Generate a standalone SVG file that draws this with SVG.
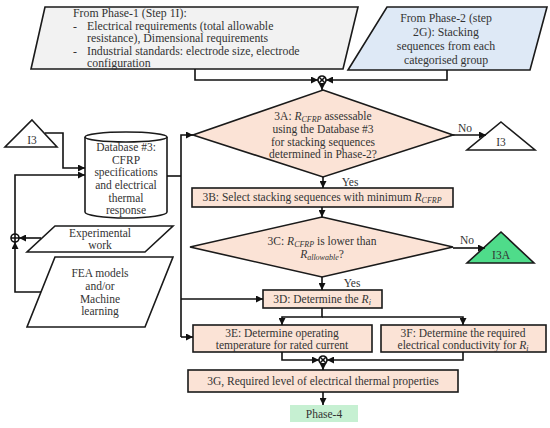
<svg xmlns="http://www.w3.org/2000/svg" width="550" height="428" viewBox="0 0 550 428">
<style>
text{font-family:"Liberation Serif","DejaVu Serif",serif;font-size:11.5px;fill:#333}
.t{font-size:11.8px}
.c{text-anchor:middle}
.sh{stroke:#1a1a1a;stroke-width:1.6}
.pe{fill:#fbe3d6}
.ln{fill:none;stroke:#111;stroke-width:1.6}
.i{font-style:italic}
.s{font-size:8px;font-style:italic}
</style>
<defs>
<marker id="a" viewBox="0 0 8 8" refX="8" refY="4" markerWidth="7" markerHeight="7" markerUnits="userSpaceOnUse" orient="auto"><path d="M0,0L8,4L0,8z" fill="#111"/></marker>
</defs>

<g id="phase1">
<polygon class="sh" points="45,7 358,7 343,69 31,69" fill="#f2f2f2"/>
<text class="t" x="73" y="17">From Phase-1 (Step 1I):</text>
<text class="t" x="73" y="29.5">-<tspan x="87">Electrical requirements (total allowable</tspan></text>
<text class="t" x="87" y="42">resistance), Dimensional requirements</text>
<text class="t" x="73" y="54.5">-<tspan x="87">Industrial standards: electrode size, electrode</tspan></text>
<text class="t" x="87" y="67">configuration</text>
</g>

<g id="phase2">
<polygon class="sh" points="387,7 547,7 530,70 348,70" fill="#dee9f6"/>
<text class="c t" x="446" y="22">From Phase-2 (step</text>
<text class="c t" x="446" y="36">2G): Stacking</text>
<text class="c t" x="446" y="50">sequences from each</text>
<text class="c t" x="446" y="64">categorised group</text>
</g>

<g id="i3-left">
<polygon class="sh" points="32,120 57,147 5,147" fill="#fff"/>
<text class="c" x="32" y="144">I3</text>
</g>

<g id="database">
<path class="sh" d="M85,137 V212 A41,6 0 0 0 167,212 V137" fill="#fff"/>
<ellipse class="sh" cx="126" cy="137" rx="41" ry="5" fill="#fff"/>
<text class="c" x="126" y="151">Database #3:</text>
<text class="c" x="126" y="164">CFRP</text>
<text class="c" x="126" y="176">specifications</text>
<text class="c" x="126" y="189">and electrical</text>
<text class="c" x="126" y="202">thermal</text>
<text class="c" x="126" y="214">response</text>
</g>

<g id="experimental">
<polygon class="sh" points="55,226 173,226 145,252 27,252" fill="#fff"/>
<text class="c" x="100" y="237">Experimental</text>
<text class="c" x="100" y="249">work</text>
</g>

<g id="fea">
<polygon class="sh" points="55,257 173,257 145,327 27,327" fill="#fff"/>
<text class="c" x="100" y="277">FEA models</text>
<text class="c" x="100" y="290">and/or</text>
<text class="c" x="100" y="303">Machine</text>
<text class="c" x="100" y="315">learning</text>
</g>

<g id="step3A">
<polygon class="sh pe" points="323,90 453,135 323,177 193,135"/>
<text class="c" x="323" y="120">3A: <tspan class="i">R</tspan><tspan class="s" dy="2">CFRP</tspan><tspan dy="-2"> assessable</tspan></text>
<text class="c" x="323" y="133">using the Database #3</text>
<text class="c" x="323" y="146">for stacking sequences</text>
<text class="c" x="323" y="158">determined in Phase-2?</text>
</g>

<g id="i3-right">
<polygon class="sh" points="501,122 535,150 467,150" fill="#fff"/>
<text class="c" x="501" y="146">I3</text>
</g>

<g id="step3B">
<rect class="sh pe" x="192" y="188" width="261" height="19"/>
<text class="c" x="322" y="201">3B: Select stacking sequences with minimum <tspan class="i">R</tspan><tspan class="s" dy="2">CFRP</tspan></text>
</g>

<g id="step3C">
<polygon class="sh pe" points="322,217 453,247 322,277 190,247"/>
<text class="c" x="322" y="245">3C: <tspan class="i">R</tspan><tspan class="s" dy="2">CFRP</tspan><tspan dy="-2"> is lower than</tspan></text>
<text class="c" x="322" y="258"><tspan class="i">R</tspan><tspan class="s" dy="2">allowable</tspan><tspan dy="-2">?</tspan></text>
</g>

<g id="i3a">
<polygon class="sh" points="501,232 534,263 467,263" fill="#4fdc8a"/>
<text class="c" x="501" y="259">I3A</text>
</g>

<g id="step3D">
<rect class="sh pe" x="263" y="290" width="119" height="18"/>
<text class="c" x="322" y="303">3D: Determine the <tspan class="i">R</tspan><tspan class="s" dy="2">i</tspan></text>
</g>

<g id="step3E">
<rect class="sh pe" x="193" y="325" width="179" height="27"/>
<text class="c" x="282" y="337">3E: Determine operating</text>
<text class="c" x="282" y="349">temperature for rated current</text>
</g>

<g id="step3F">
<rect class="sh pe" x="381" y="325" width="165" height="27"/>
<text class="c" x="463" y="337">3F: Determine the required</text>
<text class="c" x="463" y="349">electrical conductivity for <tspan class="i">R</tspan><tspan class="s" dy="2">i</tspan></text>
</g>

<g id="step3G">
<rect class="sh pe" x="188" y="370" width="270" height="22"/>
<text class="c" x="323" y="385">3G, Required level of electrical thermal properties</text>
</g>

<g id="phase4">
<rect x="290" y="405" width="68" height="17" fill="#c6f0d2"/>
<text class="c" x="324" y="418">Phase-4</text>
</g>

<g id="junctions">
<g class="ln"><circle cx="322" cy="80" r="4"/><path d="M319.2,77.2L324.8,82.8M324.8,77.2L319.2,82.8"/></g>
<g class="ln"><circle cx="323" cy="360" r="4"/><path d="M320.2,357.2L325.8,362.8M325.8,357.2L320.2,362.8"/></g>
<g class="ln"><circle cx="15" cy="238" r="4"/><path d="M11,238H19M15,234V242"/></g>
</g>

<g id="connectors" class="ln">
<path d="M195,69V80H318" marker-end="url(#a)"/>
<path d="M447,70V80H326" marker-end="url(#a)"/>
<path d="M322,84V90" marker-end="url(#a)"/>
<path d="M453,135H486" marker-end="url(#a)"/>
<path d="M323,177V188" marker-end="url(#a)"/>
<path d="M322,207V217" marker-end="url(#a)"/>
<path d="M453,248H485" marker-end="url(#a)"/>
<path d="M322,277V290" marker-end="url(#a)"/>
<path d="M322,308V317H282V325" marker-end="url(#a)"/>
<path d="M322,317H463V325" marker-end="url(#a)"/>
<path d="M282,352V360H319" marker-end="url(#a)"/>
<path d="M463,352V360H327" marker-end="url(#a)"/>
<path d="M323,364V370" marker-end="url(#a)"/>
<path d="M323,392V405" marker-end="url(#a)"/>
<path d="M45,133H63V168H85" marker-end="url(#a)"/>
<path d="M15,234V175H85" marker-end="url(#a)"/>
<path d="M41,238H19" marker-end="url(#a)"/>
<path d="M41,292H15V242" marker-end="url(#a)"/>
<path d="M167,176H181"/>
<path d="M181,337V135H193" marker-end="url(#a)"/>
<path d="M181,299H263" marker-end="url(#a)"/>
<path d="M181,337H193" marker-end="url(#a)"/>
</g>

<g id="labels">
<text class="c" x="465" y="132">No</text>
<text class="c" x="350" y="186">Yes</text>
<text class="c" x="467" y="244">No</text>
<text class="c" x="352" y="287">Yes</text>
</g>
</svg>
